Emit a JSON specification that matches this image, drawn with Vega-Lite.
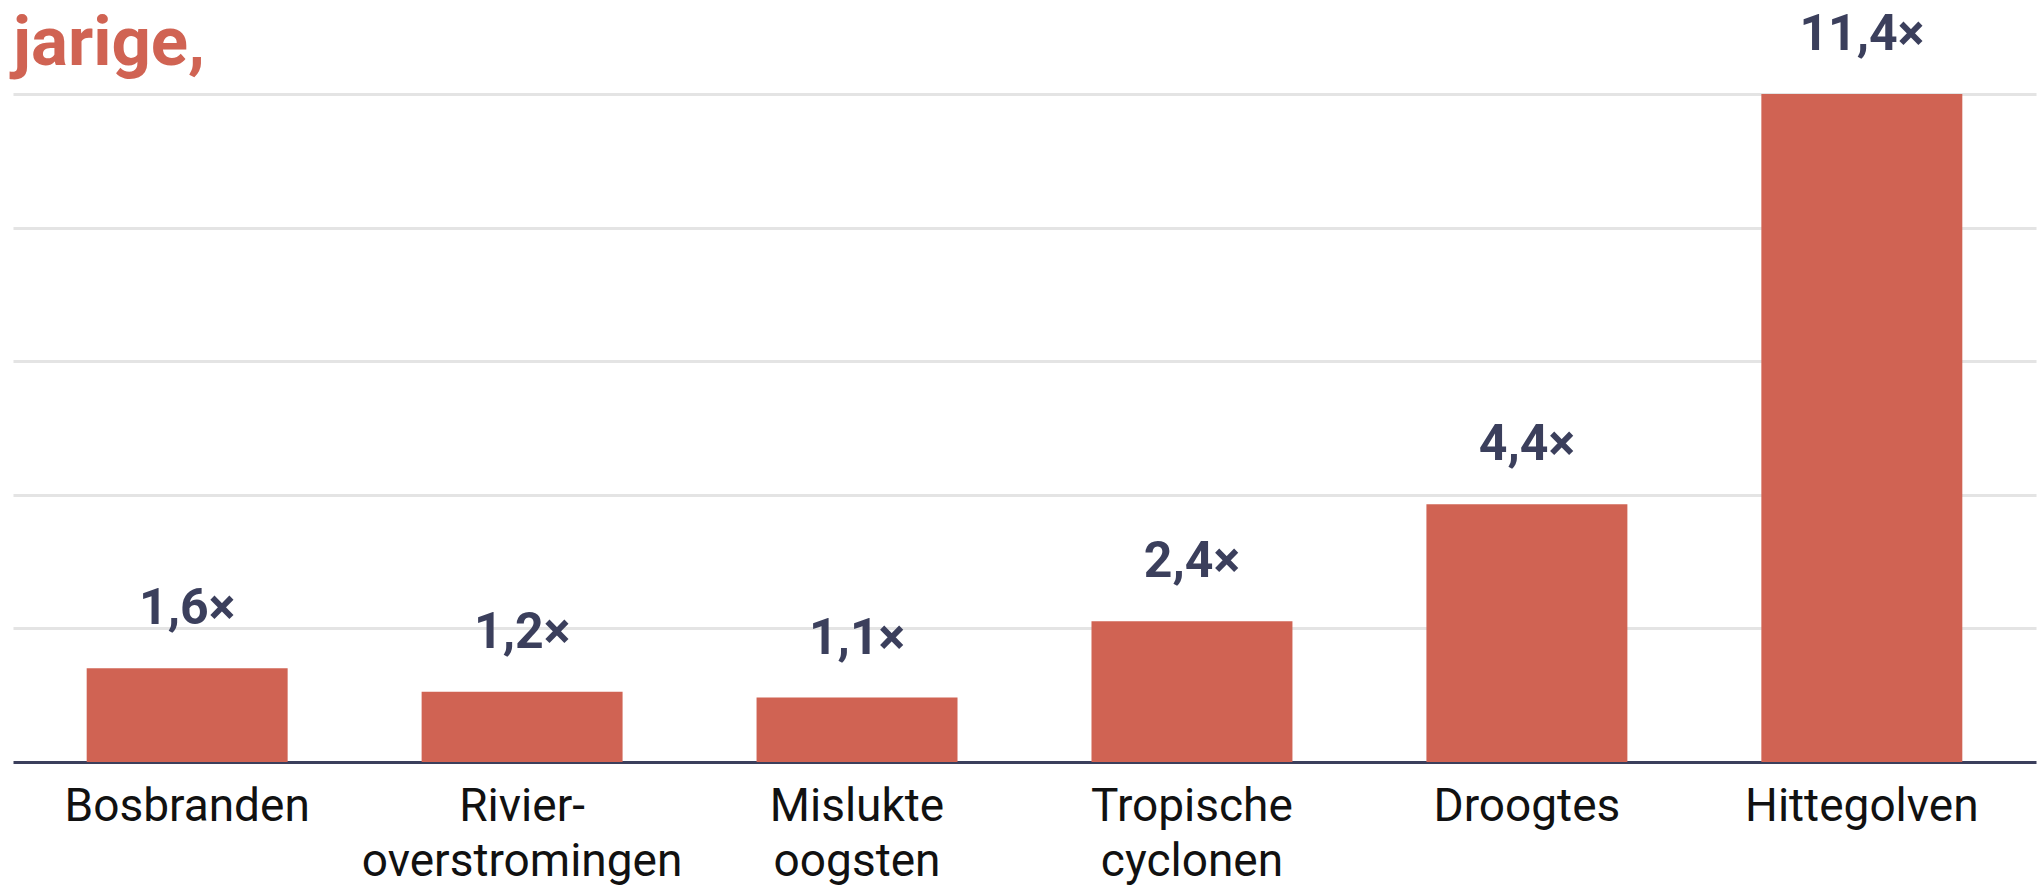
{
  "$schema": "https://vega.github.io/schema/vega-lite/v6.json",
  "autosize": {"type": "none"},
  "padding": {"left": 13, "top": 94, "right": 2, "bottom": 130},
  "width": 2023,
  "height": 668,
  "background": "white",
  "title": {
    "text": "jarige,",
    "anchor": "start",
    "frame": "group",
    "color": "#d06353",
    "fontSize": 69,
    "fontWeight": "bold",
    "font": "Roboto",
    "offset": -69
  },
  "data": {
    "values": [
      {"categorie": "Bosbranden", "factor": 1.6, "label": "1,6×"},
      {"categorie": "Rivier-overstromingen", "factor": 1.2, "label": "1,2×"},
      {"categorie": "Mislukte oogsten", "factor": 1.1, "label": "1,1×"},
      {"categorie": "Tropische cyclonen", "factor": 2.4, "label": "2,4×"},
      {"categorie": "Droogtes", "factor": 4.4, "label": "4,4×"},
      {"categorie": "Hittegolven", "factor": 11.4, "label": "11,4×"}
    ]
  },
  "encoding": {
    "x": {
      "field": "categorie",
      "type": "nominal",
      "sort": null,
      "scale": {"paddingInner": 0.4, "paddingOuter": 0.22},
      "axis": {
        "title": null,
        "labelAngle": 0,
        "ticks": false,
        "domainColor": "#3b3f5c",
        "domainWidth": 3,
        "labelFont": "Roboto",
        "labelFontSize": 46,
        "labelColor": "#111111",
        "labelPadding": 22,
        "labelLineHeight": 55,
        "labelLimit": 0,
        "labelExpr": "datum.value == 'Rivier-overstromingen' ? ['Rivier-', 'overstromingen'] : split(datum.value, ' ')"
      }
    },
    "y": {
      "field": "factor",
      "type": "quantitative",
      "scale": {"domain": [0, 11.4], "nice": false},
      "axis": {
        "title": null,
        "labels": false,
        "ticks": false,
        "domain": false,
        "grid": true,
        "gridColor": "#e4e4e4",
        "gridWidth": 3,
        "values": [2.28, 4.56, 6.84, 9.12, 11.4]
      }
    }
  },
  "layer": [
    {"mark": {"type": "bar", "color": "#d06353"}},
    {
      "mark": {
        "type": "text",
        "baseline": "alphabetic",
        "dy": -44,
        "font": "Roboto",
        "fontSize": 50,
        "fontWeight": "bold",
        "color": "#3b3f5c"
      },
      "encoding": {"text": {"field": "label"}}
    }
  ],
  "config": {"view": {"stroke": null}}
}
